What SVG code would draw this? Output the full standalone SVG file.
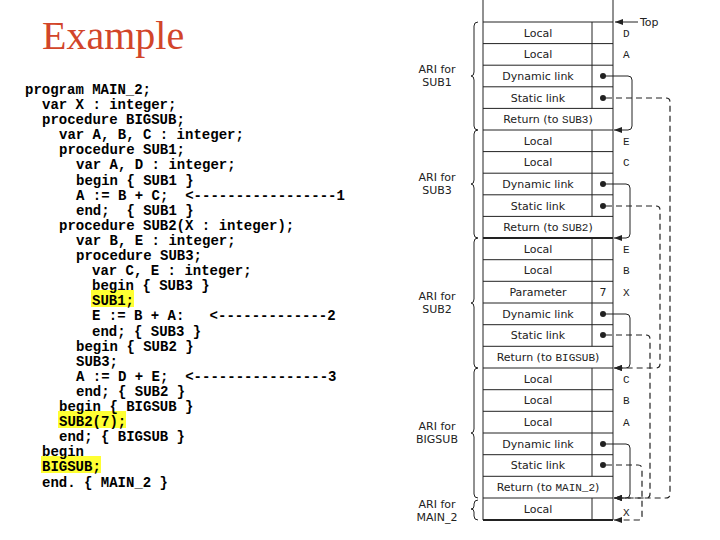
<svg xmlns="http://www.w3.org/2000/svg" width="720" height="540" viewBox="0 0 720 540">
<defs>
<style>
.code{font-family:"Liberation Mono",monospace;font-weight:bold;font-size:14px;fill:#000}
.hl{fill:#ffff33}
.cell{font-family:"DejaVu Sans",sans-serif;font-size:11px;fill:#222;text-anchor:middle}
.mono{font-family:"Liberation Mono",monospace;font-size:11px}
.var{font-family:"Liberation Mono",monospace;font-size:11px;fill:#222}
.ari{font-family:"DejaVu Sans",sans-serif;font-size:11px;fill:#222;text-anchor:middle}
.ln{stroke:#222;stroke-width:1;fill:none}
.dyn{stroke:#222;stroke-width:1;fill:none;marker-end:url(#ah)}
.sta{stroke:#222;stroke-width:1.2;fill:none;stroke-dasharray:6 4;marker-end:url(#ah)}
</style>
<marker id="ah" markerWidth="8" markerHeight="6" refX="8" refY="3" orient="auto" markerUnits="userSpaceOnUse"><path d="M0,0 L8,3 L0,6 Z" fill="#222"/></marker>
</defs>
<rect width="720" height="540" fill="#fff"/>
<text x="42" y="49" font-family="Liberation Serif,serif" font-size="40" fill="#d2452a">Example</text>
<g id="code">
<rect class="hl" x="91" y="290" width="43" height="17"/>
<rect class="hl" x="58" y="411" width="68" height="17"/>
<rect class="hl" x="41" y="456" width="60" height="17"/>
<text class="code" x="25" y="94">program MAIN_2;</text>
<text class="code" x="42" y="109">var X : integer;</text>
<text class="code" x="42" y="124">procedure BIGSUB;</text>
<text class="code" x="59" y="139">var A, B, C : integer;</text>
<text class="code" x="59" y="154">procedure SUB1;</text>
<text class="code" x="76" y="169">var A, D : integer;</text>
<text class="code" x="76" y="185">begin { SUB1 }</text>
<text class="code" x="76" y="200" xml:space="preserve">A := B + C;  &lt;-----------------1</text>
<text class="code" x="76" y="215" xml:space="preserve">end;  { SUB1 }</text>
<text class="code" x="59" y="230">procedure SUB2(X : integer);</text>
<text class="code" x="76" y="245">var B, E : integer;</text>
<text class="code" x="76" y="260">procedure SUB3;</text>
<text class="code" x="92" y="275">var C, E : integer;</text>
<text class="code" x="92" y="290">begin { SUB3 }</text>
<text class="code" x="92" y="305">SUB1;</text>
<text class="code" x="92" y="320" xml:space="preserve">E := B + A:   &lt;-------------2</text>
<text class="code" x="92" y="336">end; { SUB3 }</text>
<text class="code" x="76" y="351">begin { SUB2 }</text>
<text class="code" x="76" y="366">SUB3;</text>
<text class="code" x="76" y="381" xml:space="preserve">A := D + E;  &lt;----------------3</text>
<text class="code" x="76" y="396">end; { SUB2 }</text>
<text class="code" x="59" y="411">begin { BIGSUB }</text>
<text class="code" x="59" y="426">SUB2(7);</text>
<text class="code" x="59" y="441">end; { BIGSUB }</text>
<text class="code" x="42" y="456">begin</text>
<text class="code" x="42" y="471">BIGSUB;</text>
<text class="code" x="42" y="487">end. { MAIN_2 }</text>
</g>
<g id="stack">
<line class="ln" x1="483" y1="0" x2="483" y2="520"/>
<line class="ln" x1="613" y1="0" x2="613" y2="520"/>
<line x1="483" y1="520" x2="613" y2="520" stroke="#222" stroke-width="2"/>
<line x1="483" y1="238" x2="613" y2="238" stroke="#222" stroke-width="2"/>
<path class="ln" d="M483,22H613 M483,43.6H613 M483,65.2H613 M483,86.8H613 M483,108.4H613 M483,130H613 M483,151.6H613 M483,173.2H613 M483,194.8H613 M483,216.4H613 M483,259.7H613 M483,281.3H613 M483,303H613 M483,324.7H613 M483,346.3H613 M483,368H613 M483,389.7H613 M483,411.3H613 M483,433H613 M483,454.7H613 M483,476.3H613 M483,498H613"/>
<path class="ln" d="M592,22V108.4 M592,130V216.4 M592,238V346.3 M592,368V476.3 M592,498V520"/>
</g>
<g id="cells">
<text class="cell" x="538" y="37">Local</text>
<text class="cell" x="538" y="58">Local</text>
<text class="cell" x="538" y="80">Dynamic link</text>
<text class="cell" x="538" y="102">Static link</text>
<text class="cell" x="548" y="123">Return (to <tspan class="mono">SUB3</tspan>)</text>
<text class="cell" x="538" y="145">Local</text>
<text class="cell" x="538" y="166">Local</text>
<text class="cell" x="538" y="188">Dynamic link</text>
<text class="cell" x="538" y="210">Static link</text>
<text class="cell" x="548" y="231">Return (to <tspan class="mono">SUB2</tspan>)</text>
<text class="cell" x="538" y="253">Local</text>
<text class="cell" x="538" y="274">Local</text>
<text class="cell" x="538" y="296">Parameter</text>
<text class="cell" x="603" y="296">7</text>
<text class="cell" x="538" y="318">Dynamic link</text>
<text class="cell" x="538" y="339">Static link</text>
<text class="cell" x="548" y="361">Return (to <tspan class="mono">BIGSUB</tspan>)</text>
<text class="cell" x="538" y="383">Local</text>
<text class="cell" x="538" y="404">Local</text>
<text class="cell" x="538" y="426">Local</text>
<text class="cell" x="538" y="448">Dynamic link</text>
<text class="cell" x="538" y="469">Static link</text>
<text class="cell" x="548" y="491">Return (to <tspan class="mono">MAIN_2</tspan>)</text>
<text class="cell" x="538" y="513">Local</text>
</g>
<g id="vars">
<text class="var" x="623" y="37">D</text>
<text class="var" x="623" y="58">A</text>
<text class="var" x="623" y="145">E</text>
<text class="var" x="623" y="166">C</text>
<text class="var" x="623" y="253">E</text>
<text class="var" x="623" y="274">B</text>
<text class="var" x="623" y="296">X</text>
<text class="var" x="623" y="383">C</text>
<text class="var" x="623" y="404">B</text>
<text class="var" x="623" y="426">A</text>
<text class="var" x="623" y="516">X</text>
</g>
<g id="aris">
<path class="ln" d="M478,22 q-4,0 -4,4 V72 q0,4 -3,4 q3,0 3,4 V126 q0,4 4,4" stroke-width="0.8"/>
<text class="ari" x="437" y="73">ARI for</text><text class="ari mono" x="437" y="86">SUB1</text>
<path class="ln" d="M478,130 q-4,0 -4,4 V180 q0,4 -3,4 q3,0 3,4 V234 q0,4 4,4" stroke-width="0.8"/>
<text class="ari" x="437" y="181">ARI for</text><text class="ari mono" x="437" y="194">SUB3</text>
<path class="ln" d="M478,238 q-4,0 -4,4 V299 q0,4 -3,4 q3,0 3,4 V364 q0,4 4,4" stroke-width="0.8"/>
<text class="ari" x="437" y="300">ARI for</text><text class="ari mono" x="437" y="313">SUB2</text>
<path class="ln" d="M478,368 q-4,0 -4,4 V429 q0,4 -3,4 q3,0 3,4 V494 q0,4 4,4" stroke-width="0.8"/>
<text class="ari" x="437" y="430">ARI for</text><text class="ari mono" x="437" y="443">BIGSUB</text>
<path class="ln" d="M478,500 q-4,0 -4,4 V506 q0,3 -3,3 q3,0 3,3 V516 q0,4 4,4" stroke-width="0.8"/>
<text class="ari" x="437" y="508">ARI for</text><text class="ari mono" x="437" y="521">MAIN_2</text>
</g>
<g id="connectors">
<text x="640" y="26" font-family="DejaVu Sans,sans-serif" font-size="11" fill="#222">Top</text>
<line x1="638" y1="22" x2="615" y2="22" class="dyn"/>
<g fill="#222">
<circle cx="603" cy="76" r="3"/><circle cx="603" cy="98" r="3"/>
<circle cx="603" cy="184" r="3"/><circle cx="603" cy="206" r="3"/>
<circle cx="603" cy="314" r="3"/><circle cx="603" cy="335" r="3"/>
<circle cx="603" cy="444" r="3"/><circle cx="603" cy="465" r="3"/>
</g>
<path class="dyn" d="M603,76 H628 q4,0 4,4 V126 q0,4 -4,4 H614"/>
<path class="dyn" d="M603,184 H626 q4,0 4,4 V234 q0,4 -4,4 H614"/>
<path class="dyn" d="M603,314 H626 q4,0 4,4 V364 q0,4 -4,4 H614"/>
<path class="dyn" d="M603,444 H626 q4,0 4,4 V494 q0,4 -4,4 H614"/>
<path class="sta" d="M606,98 H666 q4,0 4,4 V494 q0,4 -4,4 H614"/>
<path class="sta" d="M606,206 H656 q4,0 4,4 V364 q0,4 -4,4 H614"/>
<path class="sta" d="M606,335 H646 q4,0 4,4 V494 q0,4 -4,4 H614"/>
<path class="sta" d="M606,465 H638 q4,0 4,4 V516 q0,4 -4,4 H614"/>
</g>
</svg>
